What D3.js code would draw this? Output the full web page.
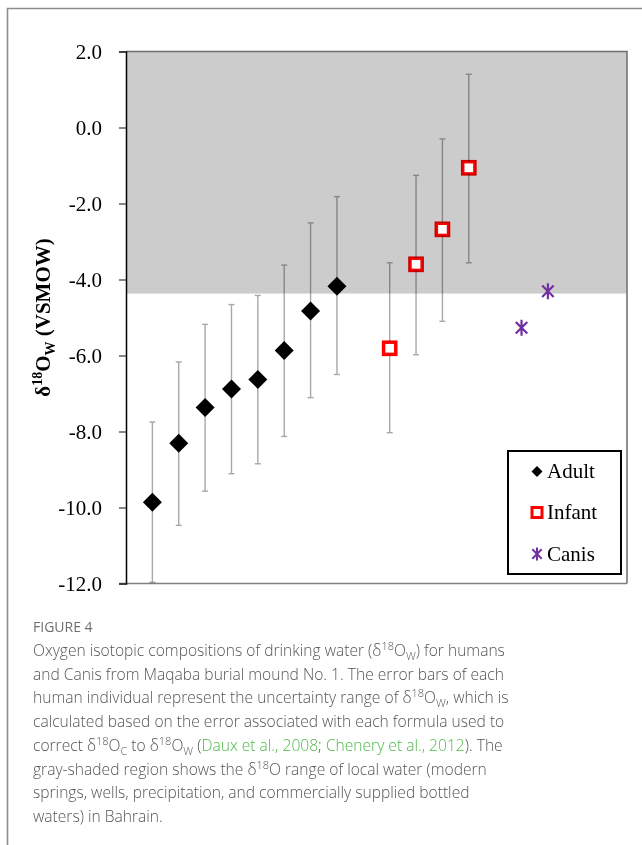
<!DOCTYPE html>
<html>
<head>
<meta charset="utf-8">
<script src="https://cdn.jsdelivr.net/npm/d3@7"></script>
<style>
  body { margin: 0; background: #fff; }
  svg { display: block; }
  .blend { mix-blend-mode: multiply; }
</style>
</head>
<body>
<div id="chart"></div>
<script>
var width = 642;
var height = 845;

// category positions along the (unlabelled) x axis
var adultX = [1, 2, 3, 4, 5, 6, 7, 8];
var infantX = [10, 11, 12, 13];
var canisX = [15, 16];

// d18Ow values (VSMOW)
var adultMean = [-9.86, -8.31, -7.37, -6.88, -6.63, -5.87, -4.83, -4.18];
var adultHigh = [-7.75, -6.17, -5.18, -4.66, -4.42, -3.62, -2.51, -1.82];
var adultLow  = [-11.97, -10.47, -9.57, -9.11, -8.85, -8.13, -7.11, -6.50];

var infantMean = [-5.81, -3.60, -2.68, -1.06];
var infantHigh = [-3.56, -1.26, -0.30, 1.40];
var infantLow  = [-8.03, -5.98, -5.10, -3.56];

var canisMean = [-5.27, -4.31];

// local water range (gray band)
var localWater = [-4.37, 2.0];

var yTicks = [2, 0, -2, -4, -6, -8, -10, -12];

var legendNames = ["Adult", "Infant", "Canis"];

var captionLines = [
  [["Oxygen isotopic compositions of drinking water ("], ["δ"], ["18", "sup"], ["O"], ["W", "sub"], [") for humans"]],
  [["and Canis from Maqaba burial mound No. 1. The error bars of each"]],
  [["human individual represent the uncertainty range of "], ["δ"], ["18", "sup"], ["O"], ["W", "sub"], [", which is"]],
  [["calculated based on the error associated with each formula used to"]],
  [["correct "], ["δ"], ["18", "sup"], ["O"], ["C", "sub"], [" to "], ["δ"], ["18", "sup"], ["O"], ["W", "sub"], [" ("], ["Daux et al., 2008", "link"], ["; "], ["Chenery et al., 2012", "link"], ["). The"]],
  [["gray-shaded region shows the "], ["δ"], ["18", "sup"], ["O range of local water (modern"]],
  [["springs, wells, precipitation, and commercially supplied bottled"]],
  [["waters) in Bahrain."]]
];

var svg = d3.select("#chart").append("svg")
  .attr("width", width)
  .attr("height", height);

// outer figure frame
svg.append("path")
  .attr("d", "M7.5," + height + "V8.5H" + width)
  .attr("fill", "none")
  .attr("stroke", "#8c8c8c")
  .attr("stroke-width", 1.6);

var plotL = 126, plotR = 627, plotT = 51.5, plotB = 583.5;

var x = d3.scaleLinear().domain([0, 19]).range([plotL, plotR]);
var y = d3.scaleLinear().domain([-12, 2]).range([plotB, plotT]);

var serif = "'Liberation Serif', 'Times New Roman', serif";

// gray band
svg.append("rect")
  .attr("x", plotL)
  .attr("y", y(localWater[1]))
  .attr("width", plotR - plotL)
  .attr("height", y(localWater[0]) - y(localWater[1]))
  .attr("fill", "#cccccc");

// plot border (top, right, bottom)
svg.append("path")
  .attr("d", "M" + plotL + "," + plotT + "H" + plotR + "V" + plotB)
  .attr("fill", "none")
  .attr("stroke", "#6e6e6e")
  .attr("stroke-width", 1.5);
svg.append("line")
  .attr("x1", 119).attr("x2", plotR)
  .attr("y1", plotB).attr("y2", plotB)
  .attr("stroke", "#7f7f7f")
  .attr("stroke-width", 1.6);

// y axis
var yAxis = svg.append("g")
  .attr("transform", "translate(" + plotL + ",0)")
  .call(d3.axisLeft(y).tickValues(yTicks).tickSize(7).tickPadding(17)
    .tickFormat(d3.format(".1f")));
yAxis.select(".domain").attr("stroke", "#000").attr("stroke-width", 1.5);
yAxis.selectAll(".tick line").attr("stroke", "#444").attr("stroke-width", 1.3);
yAxis.selectAll(".tick text")
  .attr("font-family", serif)
  .attr("font-size", 21)
  .attr("fill", "#000")
  .attr("dy", "0.33em")
  .text(function(d) { return d3.format(".1f")(d).replace("−", "-"); });

// y axis title
var title = svg.append("text")
  .attr("transform", "translate(50," + ((plotT + plotB) / 2) + ") rotate(-90)")
  .attr("text-anchor", "middle")
  .attr("font-family", serif)
  .attr("font-weight", "bold")
  .attr("font-size", 21)
  .attr("fill", "#000");
title.append("tspan").text("δ");
title.append("tspan").attr("font-size", 14).attr("dy", -8).text("18");
title.append("tspan").attr("dy", 8).text("O");
title.append("tspan").attr("font-size", 14).attr("dy", 5).text("W");
title.append("tspan").attr("dy", -5).text(" (VSMOW)");

// error bars
function errorBars(xs, hi, lo) {
  var g = svg.append("g").attr("class", "blend");
  xs.forEach(function(xv, i) {
    var cx = x(xv);
    g.append("line")
      .attr("x1", cx).attr("x2", cx)
      .attr("y1", y(hi[i])).attr("y2", y(lo[i]))
      .attr("stroke", "#a8a8a8").attr("stroke-width", 1.4);
    [hi[i], lo[i]].forEach(function(v) {
      g.append("line")
        .attr("x1", cx - 3).attr("x2", cx + 3)
        .attr("y1", y(v)).attr("y2", y(v))
        .attr("stroke", "#a8a8a8").attr("stroke-width", 1.4);
    });
  });
}
errorBars(adultX, adultHigh, adultLow);
errorBars(infantX, infantHigh, infantLow);

function diamond(h) {
  return "M0," + (-h) + "L" + h + ",0L0," + h + "L" + (-h) + ",0Z";
}
function star(h) {
  var d = h * 0.72;
  return "M0," + (-h) + "V" + h + "M" + (-d) + "," + (-d) + "L" + d + "," + d +
    "M" + (-d) + "," + d + "L" + d + "," + (-d);
}

// adult markers
svg.append("g").selectAll("path")
  .data(adultMean)
  .enter().append("path")
  .attr("transform", function(d, i) { return "translate(" + x(adultX[i]) + "," + y(d) + ")"; })
  .attr("d", diamond(9.5))
  .attr("fill", "#000");

// infant markers
var inf = svg.append("g").selectAll("g")
  .data(infantMean)
  .enter().append("g")
  .attr("transform", function(d, i) { return "translate(" + x(infantX[i]) + "," + y(d) + ")"; });
inf.append("rect")
  .attr("x", -6.1).attr("y", -6.1).attr("width", 12.2).attr("height", 12.2)
  .attr("fill", "#fff");
inf.append("rect")
  .attr("class", "blend")
  .attr("x", -6.1).attr("y", -6.1).attr("width", 12.2).attr("height", 12.2)
  .attr("fill", "none")
  .attr("stroke", "#ff0000")
  .attr("stroke-width", 3.5);

// canis markers
svg.append("g").selectAll("path")
  .data(canisMean)
  .enter().append("path")
  .attr("transform", function(d, i) { return "translate(" + x(canisX[i]) + "," + y(d) + ")"; })
  .attr("d", star(8))
  .attr("fill", "none")
  .attr("stroke", "#7030a0")
  .attr("stroke-width", 2.2);

// legend
var legend = svg.append("g");
legend.append("rect")
  .attr("x", 508).attr("y", 451)
  .attr("width", 113).attr("height", 123)
  .attr("fill", "#fff")
  .attr("stroke", "#000")
  .attr("stroke-width", 2);

var legY = [471.5, 512.5, 554];
legendNames.forEach(function(name, i) {
  var row = legend.append("g").attr("transform", "translate(537," + legY[i] + ")");
  if (i === 0) {
    row.append("path").attr("d", diamond(5.5)).attr("fill", "#000");
  } else if (i === 1) {
    row.append("rect")
      .attr("x", -5).attr("y", -5).attr("width", 10).attr("height", 10)
      .attr("fill", "#fff").attr("stroke", "#ff0000").attr("stroke-width", 3);
  } else {
    row.append("path").attr("d", star(6.5))
      .attr("fill", "none").attr("stroke", "#7030a0").attr("stroke-width", 2);
  }
  row.append("text")
    .attr("x", 10)
    .attr("dy", "0.33em")
    .attr("font-family", serif)
    .attr("font-size", 21)
    .attr("fill", "#000")
    .text(name);
});

// caption
var sans = "'Open Sans', 'Noto Sans', sans-serif";
svg.append("text")
  .attr("x", 33).attr("y", 632)
  .attr("font-family", sans)
  .attr("font-size", 14)
  .attr("font-weight", 400)
  .attr("fill", "#6f6f6f")
  .text("FIGURE 4");

captionLines.forEach(function(parts, li) {
  var t = svg.append("text")
    .attr("x", 33)
    .attr("y", 656 + li * 23.7)
    .attr("font-family", sans)
    .attr("font-weight", 300)
    .attr("font-size", 15.6)
    .attr("fill", "#555");
  var shift = 0;
  parts.forEach(function(p) {
    var s = t.append("tspan").text(p[0]);
    var target = 0;
    if (p[1] === "sup") { s.attr("font-size", 11); target = -6; }
    else if (p[1] === "sub") { s.attr("font-size", 11); target = 4; }
    else if (p[1] === "link") { s.attr("fill", "#4fb848"); }
    if (target !== shift) { s.attr("dy", target - shift); shift = target; }
  });
});
</script>
</body>
</html>
